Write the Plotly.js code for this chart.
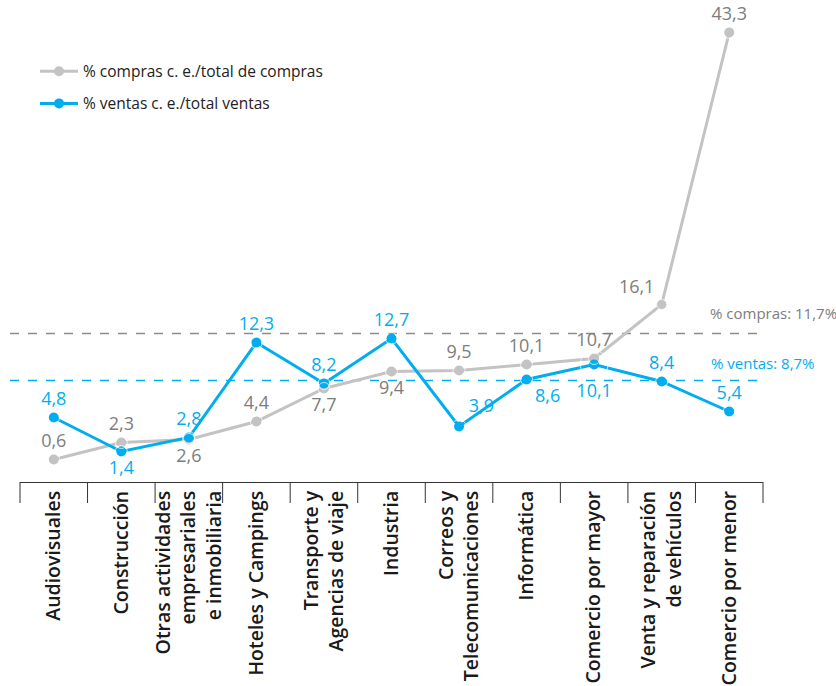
<!DOCTYPE html>
<html>
<head>
<meta charset="utf-8">
<script src="https://cdn.plot.ly/plotly-3.0.1.min.js"></script>
<style>html,body{margin:0;padding:0;background:#fff;}#chart{width:836px;height:686px;}</style>
</head>
<body>
<div id="chart"></div>
<script>
// ---- data ----
const categories = [
  "Audiovisuales",
  "Construcción",
  "Otras actividades<br>empresariales<br>e inmobiliaria",
  "Hoteles y Campings",
  "Transporte y<br>Agencias de viaje",
  "Industria",
  "Correos y<br>Telecomunicaciones",
  "Informática",
  "Comercio por mayor",
  "Venta y reparación<br>de vehículos",
  "Comercio por menor"
];
const compras = [0.6, 2.3, 2.6, 4.4, 7.7, 9.4, 9.5, 10.1, 10.7, 16.1, 43.3];
const ventas  = [4.8, 1.4, 2.8, 12.3, 8.2, 12.7, 3.9, 8.6, 10.1, 8.4, 5.4];
const seriesNames = ["% compras c. e./total de compras", "% ventas c. e./total ventas"];
// reference (average) lines as drawn in the picture, and their labels
const refCompras = 13.2;
const refVentas = 8.5;
const refLabels = ["% compras: 11,7%", "% ventas: 8,7%"];

// ---- styles ----
const grayLine = "#c3c3c3", grayText = "#7d7d7d";
const blue = "#00aeef";
const comprasPos = ["top center","top center","bottom center","top center","bottom center","bottom center","top center","top center","top center","top left","top center"];
const ventasPos  = ["top center","bottom center","top center","top center","top center","top center","top right","bottom right","bottom center","top center","top center"];
// label offset helpers (invisible marker sizes that push each value label away from its point)
const comprasGap = [12, 12, 12, 12, 12, 12, 12, 12, 12, 10, 12];
const ventasGap  = [12, 12, 12, 12, 12, 12, 14, 12, 28, 12, 12];

const yRange = [-1.65, 44.55];
const yPaper = v => (v - yRange[0]) / (yRange[1] - yRange[0]);

const labelFont = {family: "Open Sans", size: 18};
const traces = [
  {
    x: categories, y: compras, name: seriesNames[0], type: "scatter", mode: "lines+markers",
    line: {color: grayLine, width: 3}, marker: {color: grayLine, size: 10},
    cliponaxis: false, legendgroup: "a", hoverinfo: "skip"
  },
  {
    x: categories, y: ventas, name: seriesNames[1], type: "scatter", mode: "lines+markers",
    line: {color: blue, width: 3}, marker: {color: blue, size: 10},
    cliponaxis: false, legendgroup: "b", hoverinfo: "skip"
  },
  {
    x: categories, y: compras, type: "scatter", mode: "markers+text", showlegend: false,
    marker: {color: "rgba(0,0,0,0)", size: comprasGap},
    texttemplate: "%{y:.1f}", textposition: comprasPos,
    textfont: Object.assign({color: grayText}, labelFont), cliponaxis: false, hoverinfo: "skip"
  },
  {
    x: categories, y: ventas, type: "scatter", mode: "markers+text", showlegend: false,
    marker: {color: "rgba(0,0,0,0)", size: ventasGap},
    texttemplate: "%{y:.1f}", textposition: ventasPos,
    textfont: Object.assign({color: blue}, labelFont), cliponaxis: false, hoverinfo: "skip"
  }
];

const shapes = [];
const n = categories.length;
for (let i = 0; i <= n; i++) {
  shapes.push({type: "line", xref: "paper", yref: "paper", x0: i / n, x1: i / n, y0: 0, y1: -21 / 462,
    line: {color: "#333", width: 1}});
}
shapes.push({type: "line", xref: "paper", yref: "paper", x0: -10 / 743, x1: 742 / 743,
  y0: yPaper(refCompras), y1: yPaper(refCompras), line: {color: "#8c8c8c", width: 1.3, dash: "9px,9px"}, layer: "below"});
shapes.push({type: "line", xref: "paper", yref: "paper", x0: -10 / 743, x1: 742 / 743,
  y0: yPaper(refVentas), y1: yPaper(refVentas), line: {color: blue, width: 1.3, dash: "9px,9px"}, layer: "below"});

const layout = {
  width: 836, height: 686,
  margin: {l: 20, r: 73, t: 20, b: 204},
  paper_bgcolor: "#fff", plot_bgcolor: "#fff",
  separators: ",.",
  font: {family: "Open Sans", color: "#222"},
  showlegend: true,
  legend: {x: 15 / 743, y: 0.925, xanchor: "left", yanchor: "top", bgcolor: "rgba(0,0,0,0)",
    font: {family: "Open Sans", size: 15.5, color: "#222"}, tracegroupgap: 9, itemwidth: 38},
  xaxis: {type: "category", range: [-0.5, 10.5], showline: true, linecolor: "#333", linewidth: 1,
    ticks: "", showgrid: false, zeroline: false, tickangle: -90,
    tickfont: {family: "Open Sans", size: 19.5, weight: 600, color: "#1a1a1a"}, fixedrange: true},
  yaxis: {range: yRange, visible: false, showgrid: false, zeroline: false, fixedrange: true},
  shapes: shapes,
  annotations: [
    {xref: "paper", yref: "paper", x: 688 / 743, y: yPaper(15.3), xanchor: "left", yanchor: "middle",
      text: refLabels[0], showarrow: false, font: {family: "Open Sans", size: 15, color: grayText}},
    {xref: "paper", yref: "paper", x: 689 / 743, y: yPaper(10.25), xanchor: "left", yanchor: "middle",
      text: refLabels[1], showarrow: false, font: {family: "Open Sans", size: 15, color: blue}}
  ]
};

Plotly.newPlot("chart", traces, layout, {displayModeBar: false, staticPlot: true});
</script>
</body>
</html>
